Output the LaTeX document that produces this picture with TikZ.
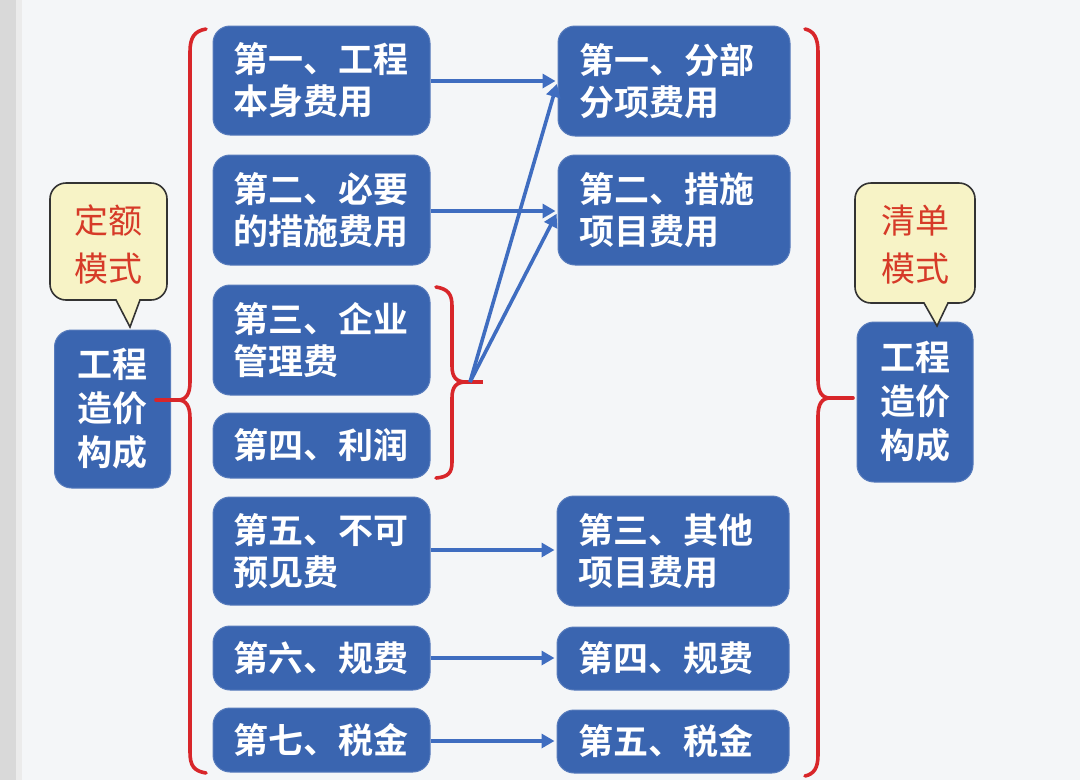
\documentclass[tikz,border=0pt]{standalone}
\usepackage{fontspec}
\newfontfamily\cjk{Noto Sans CJK SC}[BoldFont={Noto Sans CJK SC Bold}]
\usetikzlibrary{arrows.meta,calc}
\definecolor{boxblue}{HTML}{3A65B0}
\definecolor{arrblue}{HTML}{3F6DC0}
\definecolor{bracered}{HTML}{D8262A}
\definecolor{callfill}{HTML}{F7F3C6}
\definecolor{calltext}{HTML}{D63A28}
\definecolor{bg}{HTML}{F4F6F8}
\begin{document}
\begin{tikzpicture}[x=1pt,y=-1pt,
  bbox/.style={fill=boxblue, draw=boxblue!85!white, line width=1pt, rounded corners=17pt,
    text=white, font=\cjk\bfseries\fontsize{35}{42}\selectfont, align=left, inner sep=0pt},
  lbox/.style={bbox, minimum width=217pt, text width=177pt},
  rbox/.style={bbox, minimum width=232pt, text width=190pt},
  mbox/.style={bbox, minimum width=116pt, minimum height=158pt, align=center,
    font=\cjk\bfseries\fontsize{35}{44}\selectfont},
  calltxt/.style={text=calltext, font=\cjk\fontsize{34}{48}\selectfont, align=center, inner sep=0pt},
  callshape/.style={fill=callfill, draw=black!80, line width=1.6pt},
  conn/.style={draw=arrblue, line width=3.6pt, shorten >=2pt, -{Triangle[length=13pt,width=14pt]}},
  brc/.style={draw=bracered, line width=3.6pt, line cap=round}
]
\useasboundingbox (0,0) rectangle (1080,780);
\fill[bg] (0,0) rectangle (1080,780);
\fill[black!15] (0,0) rectangle (16,780);
\fill[black!8] (16,0) rectangle (22,780);

% left column
\node[lbox, minimum height=109pt] (L1) at (321.5,80.5) {第一、工程\\本身费用};
\node[lbox, minimum height=110pt] (L2) at (321.5,210) {第二、必要\\的措施费用};
\node[lbox, minimum height=110pt] (L3) at (321.5,340) {第三、企业\\管理费};
\node[lbox, minimum height=65pt] (L4) at (321.5,445.5) {第四、利润};
\node[lbox, minimum height=108pt] (L5) at (321.5,551) {第五、不可\\预见费};
\node[lbox, minimum height=64pt] (L6) at (321.5,658) {第六、规费};
\node[lbox, minimum height=64pt] (L7) at (321.5,740) {第七、税金};

% right column
\node[rbox, minimum height=110pt] (R1) at (674,81) {第一、分部\\分项费用};
\node[rbox, minimum height=110pt] (R2) at (674,210) {第二、措施\\项目费用};
\node[rbox, minimum height=110pt] (R3) at (673,551) {第三、其他\\项目费用};
\node[rbox, minimum height=63pt] (R4) at (673,658.5) {第四、规费};
\node[rbox, minimum height=63pt] (R5) at (673,741.5) {第五、税金};

% main boxes
\node[mbox] (ML) at (112.5,409) {工程\\造价\\构成};
\node[mbox, minimum height=160pt] (MR) at (915,402) {工程\\造价\\构成};

% callouts
\draw[callshape] (140,300) [rounded corners=16pt] -- (167,300) -- (167,183) -- (50,183) -- (50,300) [sharp corners] -- (116,300) -- (130,327) -- cycle;
\node[calltxt] (CL) at (108.5,244) {定额\\模式};
\draw[callshape] (948,303) [rounded corners=16pt] -- (975,303) -- (975,183) -- (855,183) -- (855,303) [sharp corners] -- (924,303) -- (937,326) -- cycle;
\node[calltxt] (CR) at (915,245) {清单\\模式};

% braces
\coordinate (lbtip) at (156,400);
\coordinate (rbtip) at (853,398);
\coordinate (sbtip) at (483,382);
\draw[brc] (206,29) .. controls (194,31) and (190,38) .. (190,52) -- (190,382)
  .. controls (190,394) and (186,400) .. (178,400)
  .. controls (186,400) and (190,406) .. (190,418) -- (190,752)
  .. controls (190,766) and (194,771) .. (206,773);
\draw[brc] (lbtip) -- (180,400);
\draw[brc] (805,29) .. controls (814,31) and (818,38) .. (818,52) -- (818,380)
  .. controls (818,392) and (822,398) .. (830,398)
  .. controls (822,398) and (818,404) .. (818,416) -- (818,755)
  .. controls (818,768) and (814,774) .. (805,776);
\draw[brc] (828,398) -- (rbtip);
\draw[brc] (436,287) .. controls (448,289) and (452,294) .. (452,306) -- (452,366)
  .. controls (452,377) and (456,382) .. (466,382)
  .. controls (456,382) and (452,387) .. (452,398) -- (452,462)
  .. controls (452,473) and (448,477) .. (436,478);
\draw[brc, line width=4.5pt, line cap=butt] (464,382) -- (sbtip);

% connectors
\coordinate (dsrc) at (470,382);
\draw[conn] (L1.east |- 0,81) -- (R1.west |- 0,81);
\draw[conn] (L2.east |- 0,211) -- (R2.west |- 0,211);
\draw[conn] (dsrc) -- ($(R1.west)+(0,1)$);
\draw[conn] (dsrc) -- ($(R2.west)+(0,2)$);
\draw[conn] (L5.east |- 0,550) -- (R3.west |- 0,550);
\draw[conn] (L6.east |- 0,658) -- (R4.west |- 0,658);
\draw[conn] (L7.east |- 0,741) -- (R5.west |- 0,741);
\end{tikzpicture}
\end{document}
